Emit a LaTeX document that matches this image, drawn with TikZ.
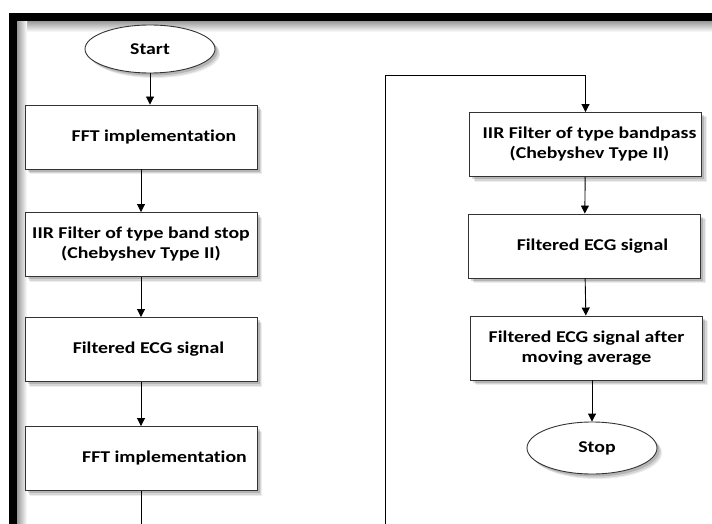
\documentclass[tikz,border=0pt]{standalone}
\usepackage{fontspec}
\setmainfont{Carlito}[FakeStretch=1.2,RawFeature=-liga]
\usetikzlibrary{shapes.geometric,arrows.meta,shadows}
\tikzset{
  softshadow/.style={
    general shadow={shadow xshift=5pt,shadow yshift=-5pt,fill=black,opacity=0.07},
    general shadow={shadow xshift=4pt,shadow yshift=-4pt,fill=black,opacity=0.1},
    general shadow={shadow xshift=2.5pt,shadow yshift=-2.5pt,fill=black,opacity=0.15}},
  procbox/.style={draw=black!80,line width=0.9pt,fill=white,softshadow,
    minimum width=232pt,minimum height=64pt,inner sep=0pt,align=center,
    font=\fontsize{16.5}{20}\selectfont\bfseries},
  termnode/.style={ellipse,draw=black!80,line width=0.9pt,fill=white,softshadow,
    minimum width=130pt,minimum height=48pt,inner sep=0pt,
    font=\fontsize{16.5}{20}\selectfont\bfseries},
  arr/.style={draw=black,line width=0.9pt,-{Triangle[length=8pt,width=8pt]}},
  conn/.style={draw=black,line width=0.9pt}
}
\begin{document}
\begin{tikzpicture}[x=1pt,y=-1pt]
\useasboundingbox (0,0) rectangle (712,524);
% frame
\shade[top color=black!40,bottom color=white] (17,21) rectangle (712,32);
\shade[left color=black!40,right color=white] (17,21) rectangle (27,524);
\fill[black] (9,13) rectangle (712,21);
\fill[black] (9,13) rectangle (17,524);
% left column
\node[termnode] (start) at (150,49) {Start};
\node[procbox] (b1) at (141,137) {\raisebox{3pt}{\hspace*{26pt}FFT implementation}};
\node[procbox] (b2) at (141,244.5) {IIR Filter of type band stop\\(Chebyshev Type II)};
\node[procbox] (b3) at (141,349.5) {\hspace*{15pt}Filtered ECG signal};
\node[procbox] (b4) at (141,458.5) {\raisebox{3pt}{\hspace*{47pt}FFT implementation}};
\coordinate (lend) at (141,524);
% right column
\node[procbox] (b5) at (585.5,144.5) {\hspace*{8pt}IIR Filter of type bandpass\\\hspace*{8pt}(Chebyshev Type II)};
\node[procbox] (b6) at (584.5,246) {\raisebox{-1pt}{\hspace*{16pt}Filtered ECG signal}};
\node[procbox] (b7) at (586.5,348) {Filtered ECG signal after\\moving average};
\node[termnode,minimum height=52pt] (stop) at (592,448) {\hspace*{10pt}Stop};
\coordinate (rend) at (385,524);
% connectors
\draw[arr] (start.south) -- (start.south |- b1.north);
\draw[arr] (b1) -- (b2);
\draw[arr] (b2) -- (b3);
\draw[arr] (b3) -- (b4);
\draw[conn] (b4.south) -- (b4.south |- lend);
\draw[arr] (rend) |- ([yshift=37pt]b5.north) -- (b5.north);
\draw[arr] (b5) -- (b6);
\draw[arr] (b6) -- (b7);
\draw[arr] (stop.north |- b7.south) -- (stop.north);
\end{tikzpicture}
\end{document}
